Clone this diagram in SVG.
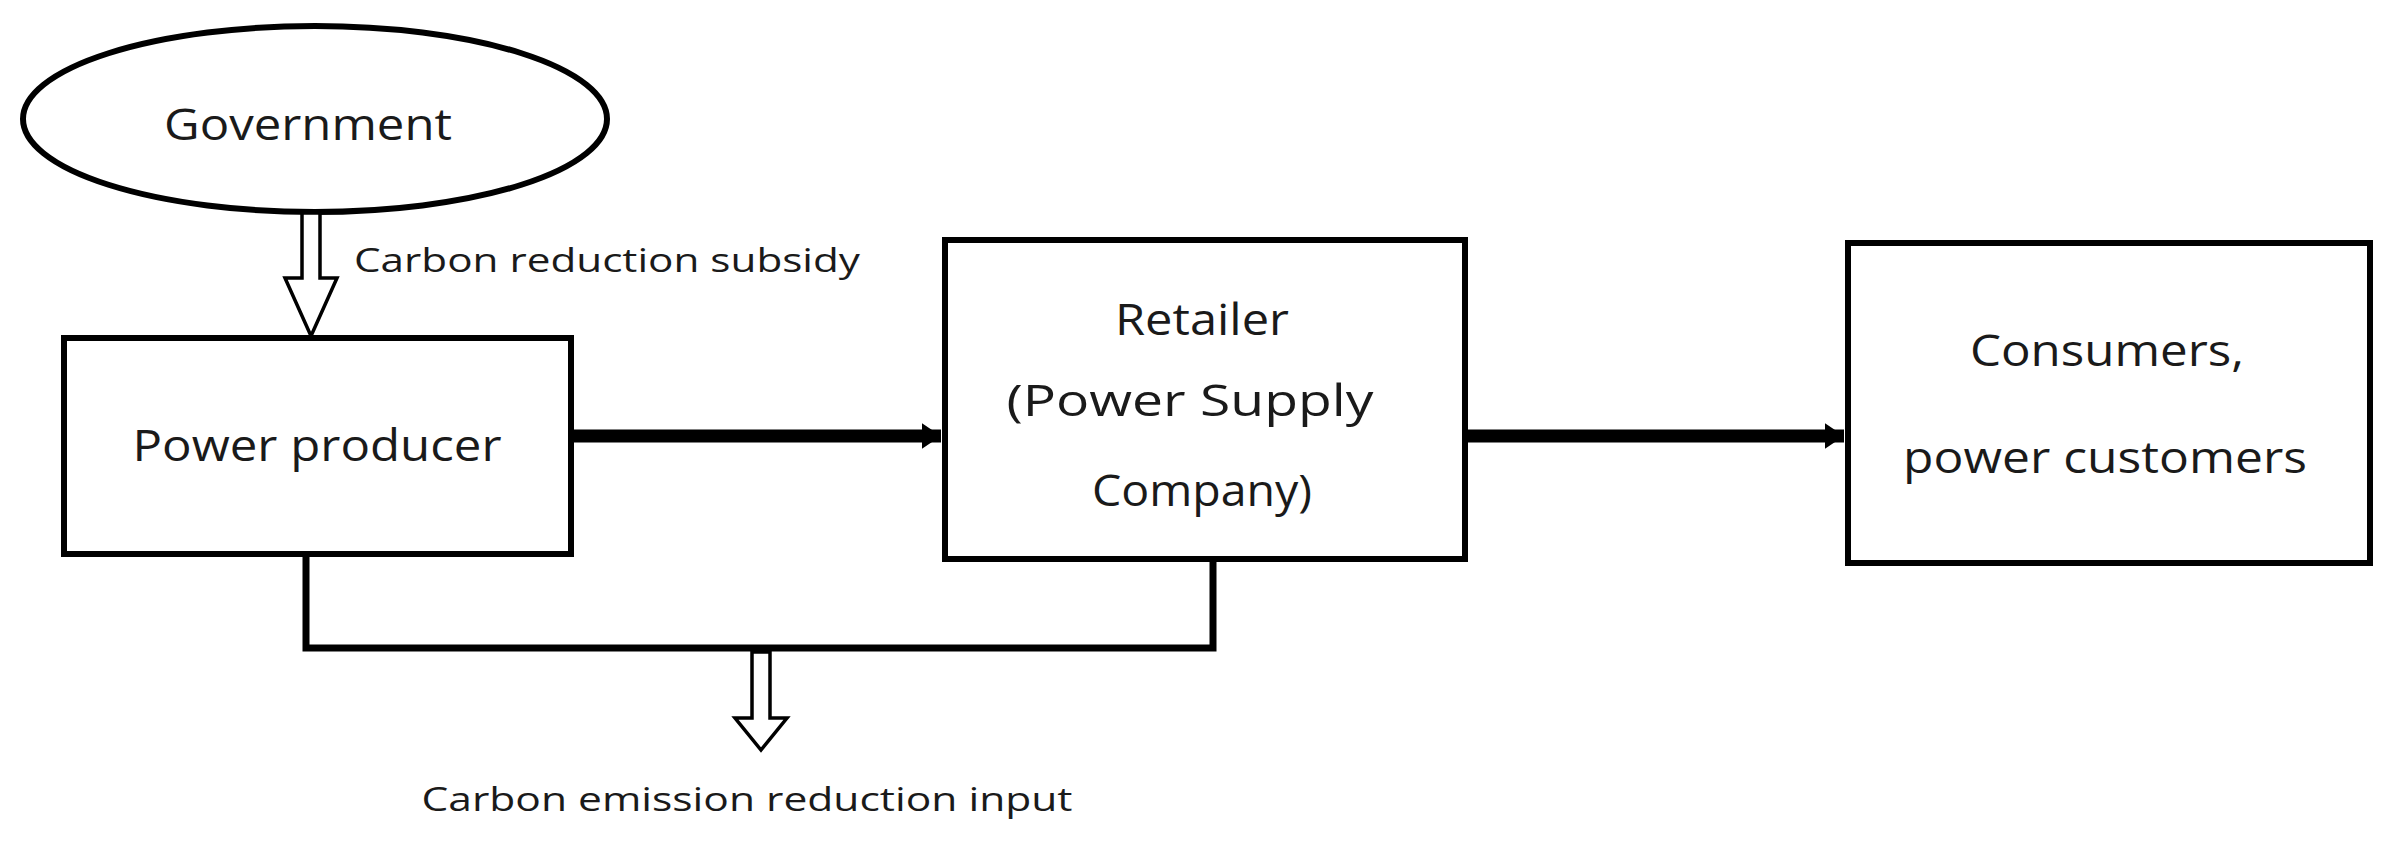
<svg xmlns="http://www.w3.org/2000/svg" width="2400" height="849" viewBox="0 0 2400 849">
<style>
.box{fill:#fff;stroke:#000;stroke-width:6}
.t{font-family:"Open Sans","Liberation Sans",sans-serif;fill:#1a1a1a;text-anchor:middle}
.n{font-size:44px}
.hollow{fill:#fff;stroke:#000;stroke-width:3.5;stroke-linejoin:miter}
.line{fill:none;stroke:#000;stroke-width:7}
</style>
<defs>
<marker id="ah" markerWidth="2" markerHeight="2" refX="1.5" refY="1" orient="auto" markerUnits="strokeWidth">
<path d="M0,0 L1.5,1 L0,2 Z" fill="#000"/>
</marker>
</defs>
<rect width="2400" height="849" fill="#fff"/>
<g id="government">
<ellipse cx="315" cy="119" rx="292" ry="93" class="box" stroke-width="5"/>
<text class="t n" x="308" y="140" textLength="288" lengthAdjust="spacingAndGlyphs">Government</text>
</g>
<g id="producer">
<rect x="64" y="338" width="507" height="216" class="box"/>
<text class="t n" x="317" y="461" textLength="369" lengthAdjust="spacingAndGlyphs">Power producer</text>
</g>
<g id="retailer">
<rect x="945" y="240" width="520" height="319" class="box"/>
<text class="t n" x="1202" y="335" textLength="174" lengthAdjust="spacingAndGlyphs">Retailer</text>
<text class="t n" x="1190" y="416" textLength="367" lengthAdjust="spacingAndGlyphs">(Power Supply</text>
<text class="t n" x="1202" y="506" textLength="220" lengthAdjust="spacingAndGlyphs">Company)</text>
</g>
<g id="consumers">
<rect x="1848" y="243" width="522" height="320" class="box"/>
<text class="t n" x="2107" y="366" textLength="274" lengthAdjust="spacingAndGlyphs">Consumers,</text>
<text class="t n" x="2105" y="473" textLength="404" lengthAdjust="spacingAndGlyphs">power customers</text>
</g>
<g id="connectors">
<path class="hollow" d="M302,213 L320,213 L320,278 L337,278 L311,336 L285,278 L302,278 Z"/>
<text class="t" x="607" y="272" font-size="33" textLength="506" lengthAdjust="spacingAndGlyphs">Carbon reduction subsidy</text>
<line x1="574" y1="436" x2="941" y2="436" stroke="#000" stroke-width="13" marker-end="url(#ah)"/>
<line x1="1468" y1="436" x2="1844" y2="436" stroke="#000" stroke-width="13" marker-end="url(#ah)"/>
<polyline class="line" points="306,557 306,648 1213,648 1213,562"/>
<path class="hollow" d="M752,652 L770,652 L770,718 L787,718 L761,750 L735,718 L752,718 Z"/>
<text class="t" x="747" y="811" font-size="33" textLength="651" lengthAdjust="spacingAndGlyphs">Carbon emission reduction input</text>
</g>
</svg>
